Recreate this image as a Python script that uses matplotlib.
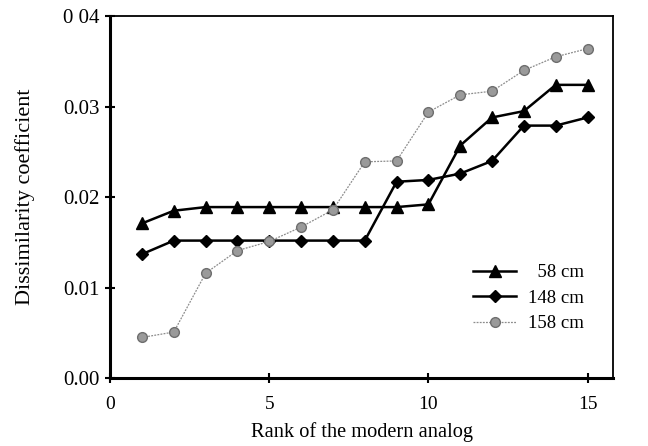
import matplotlib.pyplot as plt
import numpy as np

plt.rcParams['font.family'] = ['Liberation Serif', 'DejaVu Serif']

rank = list(range(1, 16))
cm58 = [0.0171, 0.0185, 0.0189, 0.0189, 0.0189, 0.0189, 0.0189, 0.0189,
        0.0189, 0.0192, 0.0257, 0.0288, 0.0295, 0.0324, 0.0324]
cm148 = [0.0137, 0.0152, 0.0152, 0.0152, 0.0152, 0.0152, 0.0152, 0.0152,
         0.0217, 0.0219, 0.0226, 0.0240, 0.0279, 0.0279, 0.0288]
cm158 = [0.0045, 0.0051, 0.0116, 0.0141, 0.0151, 0.0167, 0.0186, 0.0239,
         0.0240, 0.0294, 0.0313, 0.0317, 0.0340, 0.0355, 0.0364]
labels = ['  58 cm', '148 cm', '158 cm']
yticks = [0.0, 0.01, 0.02, 0.03, 0.04]
yticklabels = ['0.00', '0.01', '0.02', '0.03', '0 04']

fig = plt.figure(figsize=(6.48, 4.46), dpi=100)
ax = fig.add_axes([0.170, 0.152, 0.776, 0.812])

ax.plot(rank, cm58, color='black', lw=1.8, marker='^', ms=8, label=labels[0])
ax.plot(rank, cm148, color='black', lw=1.8, marker='D', ms=6.5, label=labels[1])
ax.plot(rank, cm158, color='#8c8c8c', lw=0.9, ls=(0, (1.5, 1)), marker='o', ms=7,
        markerfacecolor='#9a9a9a', markeredgecolor='#6e6e6e', label=labels[2])

ax.set_xlim(0, 15.8)
ax.set_ylim(0, 0.04)
ax.set_xticks([0, 5, 10, 15])
ax.set_yticks(yticks)
ax.set_yticklabels(yticklabels)
ax.tick_params(direction='inout', length=7, width=1.5)
ax.tick_params(axis='x', labelsize=14, pad=9)
ax.tick_params(axis='y', labelsize=15, pad=4)

ax.spines['left'].set_linewidth(2.2)
ax.spines['bottom'].set_linewidth(2.2)
ax.spines['top'].set_linewidth(1.3)
ax.spines['right'].set_linewidth(1.3)

ax.set_xlabel('Rank of the modern analog', fontsize=14.7, labelpad=7)
ax.set_ylabel('Dissimilarity coefficient', fontsize=16, labelpad=20)

ax.legend(loc='lower right', bbox_to_anchor=(0.975, 0.08), frameon=False,
          fontsize=13.5, handlelength=2.3, labelspacing=0.45, handletextpad=0.6)

fig.savefig('out.png', dpi=100)
